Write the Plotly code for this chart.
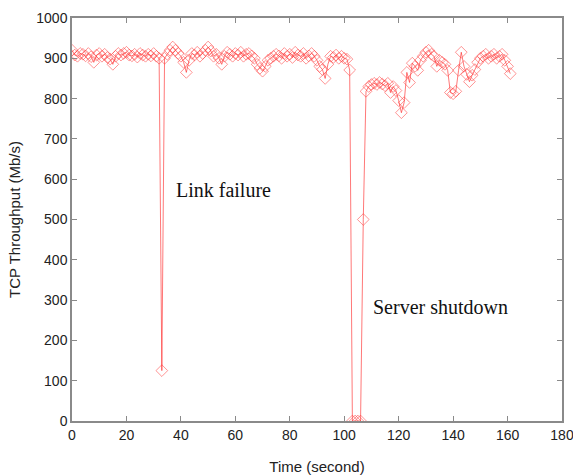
import plotly.graph_objects as go

time_s = list(range(0, 162))
throughput = [
    920, 908, 905, 912, 910, 906, 912, 904, 890, 908,
    912, 905, 910, 902, 898, 885, 905, 912, 908, 912,
    915, 908, 906, 910, 903, 912, 908, 905, 910, 906,
    912, 905, 900, 125, 900, 910, 920, 928, 920, 912,
    905, 890, 865, 895, 912, 908, 915, 905, 912, 920,
    928, 918, 905, 910, 900, 885, 905, 915, 910, 905,
    912, 908, 915, 905, 910, 912, 906, 900, 885, 875,
    868, 880, 895, 900, 905, 910, 906, 900, 912, 905,
    910, 902, 915, 908, 905, 912, 900, 906, 912, 905,
    895, 880, 872, 850, 885, 905, 902, 908, 900, 905,
    900, 898, 871, 0, 0, 0, 0, 500, 818, 830,
    835, 838, 835, 840, 836, 832, 838, 815, 830, 820,
    795, 765, 790, 865, 840, 888, 880, 870, 895, 905,
    915, 920, 910, 905, 880, 895, 890, 885, 870, 815,
    812, 818, 870, 915, 880, 860, 842, 858, 872, 890,
    900, 905, 910, 900, 905, 910, 900, 905, 910, 895,
    880, 862,
]

x_ticks = [0, 20, 40, 60, 80, 100, 120, 140, 160, 180]
y_ticks = [0, 100, 200, 300, 400, 500, 600, 700, 800, 900, 1000]

annotations_text = ["Link failure", "Server shutdown"]
annotations_x = [37.3, 109.8]
annotations_y = [573, 283]

fig = go.Figure()
fig.add_trace(go.Scatter(
    x=time_s, y=throughput, mode="lines+markers",
    line=dict(color="rgba(255,30,30,0.6)", width=1),
    marker=dict(symbol="diamond-open", size=9,
                color="rgba(255,60,60,0.55)", line=dict(width=1)),
    showlegend=False,
))

for txt, ax, ay in zip(annotations_text, annotations_x, annotations_y):
    fig.add_annotation(x=ax, y=ay, text=txt, showarrow=False,
                       xanchor="left", yanchor="middle",
                       font=dict(family="Liberation Serif", size=20, color="#111"))

axis_common = dict(
    showline=True, linecolor="#8a8a8a", linewidth=1.5, mirror="allticks",
    ticks="inside", ticklen=5, tickcolor="#8a8a8a", showgrid=False, zeroline=False,
    automargin=False, ticklabeloverflow="allow",
    tickfont=dict(family="Liberation Sans", size=14, color="#222"),
)

fig.update_xaxes(range=[0, 180], tickvals=x_ticks,
                 title=dict(text="Time (second)", standoff=20,
                            font=dict(family="Liberation Sans", size=15, color="#222")),
                 **axis_common)
fig.update_yaxes(range=[0, 1000], tickvals=y_ticks,
                 title=dict(text="TCP Throughput (Mb/s)", standoff=12,
                            font=dict(family="Liberation Sans", size=15, color="#222")),
                 **axis_common)

fig.update_layout(
    width=573, height=476,
    margin=dict(l=72, r=11, t=18, b=55),
    plot_bgcolor="white", paper_bgcolor="white",
)

fig.write_html("out.html")
